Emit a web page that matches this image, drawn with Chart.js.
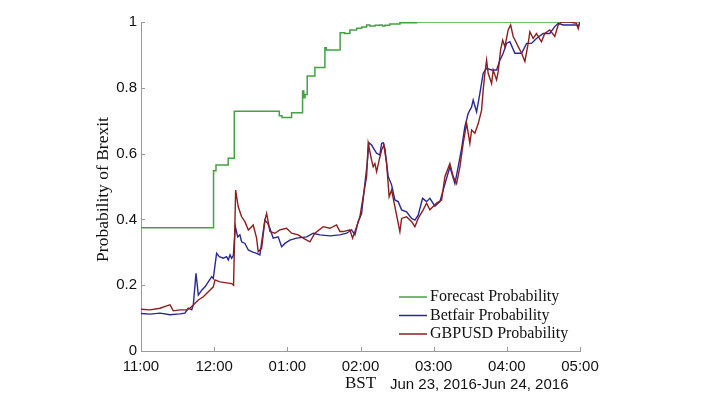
<!DOCTYPE html>
<html>
<head>
<meta charset="utf-8">
<script src="https://cdn.jsdelivr.net/npm/chart.js@4.4.1/dist/chart.umd.min.js"></script>
<style>
  html, body { margin: 0; padding: 0; background: #fff; }
  #wrap { width: 703px; height: 396px; }
</style>
</head>
<body>
<div id="wrap"><canvas id="grafico" width="703" height="396"></canvas></div>
<script>
// tick labels (x is minutes after 11:00 BST)
const xTickLabels = ['11:00', '12:00', '01:00', '02:00', '03:00', '04:00', '05:00'];
const yTickLabels = ['0', '0.2', '0.4', '0.6', '0.8', '1'];

// Forecast probability (step changes)
const forecastMin = [0, 59.5, 61.5, 71.5, 76.5, 113.4, 115.6, 123.5, 132.5, 133.5, 134.5, 136.3, 142.6, 150.8, 152,
    163.3, 167, 171.3, 176.8, 181, 185, 187.7, 192, 195.9, 198, 200, 204, 212.3, 226, 360];
const forecastProb = [0.375, 0.548, 0.565, 0.586, 0.729, 0.715, 0.71, 0.724, 0.79, 0.77, 0.78, 0.836, 0.862, 0.922, 0.915,
    0.967, 0.965, 0.976, 0.981, 0.985, 0.991, 0.988, 0.99, 0.991, 0.988, 0.99, 0.994, 0.998, 1.0, 1.0];

// Betfair probability
const betfairMin = [0, 7.4, 15.6, 23.8, 32, 36, 38.8, 41.6, 42.9, 45.1, 47, 49.8, 52.5, 55.2, 58, 59.3, 60.7, 62, 64.2,
    67.5, 70.2, 71.6, 73, 74.3, 75.7, 77.4, 79.3, 81.1, 82.5, 85.2, 88, 90.7, 94.8, 97.5, 100.2, 101.6, 103.9, 105.7,
    108.4, 112.5, 115.3, 118, 122.1, 127.6, 135.8, 141.2, 146.7, 154.9, 163.1, 168.6, 172.7, 175.4, 178.1, 180.9,
    183.6, 185.5, 186.9, 189.1, 193.2, 195.9, 197.3, 198.6, 200, 202.7, 205.5, 208.2, 210.9, 213.7, 217.8, 221.9,
    224.6, 227.3, 230.9, 234.2, 236.9, 241, 245.1, 247.8, 250.6, 253.3, 257.4, 260.1, 262.9, 265.6, 268.3, 271.1,
    272.4, 275.2, 277.9, 280.6, 283.4, 287.5, 291.6, 294.3, 297, 299.8, 302.5, 306.6, 312.1, 316.2, 320.2, 324.3,
    329.8, 335.2, 339.3, 342.1, 346.2, 351.7, 357.1, 358.5, 359.8];
const betfairProb = [0.114, 0.112, 0.115, 0.11, 0.113, 0.115, 0.13, 0.125, 0.14, 0.236, 0.17, 0.185, 0.195, 0.21, 0.226,
    0.22, 0.261, 0.297, 0.287, 0.282, 0.287, 0.277, 0.292, 0.282, 0.29, 0.378, 0.347, 0.353, 0.332, 0.327, 0.307,
    0.302, 0.297, 0.292, 0.363, 0.398, 0.388, 0.373, 0.343, 0.347, 0.317, 0.327, 0.337, 0.343, 0.347, 0.358, 0.353,
    0.35, 0.353, 0.358, 0.368, 0.353, 0.393, 0.418, 0.509, 0.57, 0.633, 0.626, 0.601, 0.596, 0.631, 0.633, 0.616,
    0.53, 0.505, 0.459, 0.454, 0.429, 0.423, 0.403, 0.398, 0.413, 0.464, 0.454, 0.464, 0.44, 0.454, 0.489, 0.525,
    0.56, 0.509, 0.56, 0.616, 0.682, 0.722, 0.742, 0.763, 0.727, 0.783, 0.844, 0.859, 0.854, 0.854, 0.884, 0.905,
    0.935, 0.94, 0.905, 0.905, 0.935, 0.935, 0.95, 0.965, 0.965, 0.986, 0.996, 0.991, 0.991, 0.991, 0.986, 0.996];

// GBPUSD implied probability
const gbpusdMin = [0, 7.4, 15.6, 21, 23.8, 26.5, 32, 37.5, 40.2, 44.3, 47, 51.1, 55.2, 59.3, 60.7, 64.8, 70.2, 74.3,
    75.9, 77.6, 79.7, 82.5, 85.2, 88, 90.7, 92, 94.8, 96.1, 98.9, 101.6, 103, 104.3, 105.7, 109.8, 113.9, 119.4,
    123.5, 128.9, 133, 138.5, 142.6, 149.4, 154.9, 160.4, 163.1, 165.8, 171.3, 173.5, 176.8, 179.5, 182.2, 185,
    186.3, 189.1, 190.4, 191.8, 193.2, 195.3, 197.3, 199.2, 201.4, 203.5, 205.5, 208.2, 212.3, 213.7, 217.8, 221.9,
    224.6, 227.3, 231.4, 234.2, 236.9, 242.4, 246.5, 249.2, 253.3, 256, 258.8, 261.5, 264.2, 267, 269.7, 271.1,
    273.8, 276.6, 279.3, 280.6, 282, 283.4, 284.7, 287.5, 288.8, 291.6, 292.9, 294.9, 296.6, 298.4, 301.1, 303.1,
    305.2, 307.4, 309.3, 312.1, 314.8, 317.5, 318.9, 321.6, 324.3, 328.4, 331.1, 335.2, 339.3, 342.1, 344.8, 351.7,
    357.1, 358.5, 359.8];
const gbpusdProb = [0.127, 0.125, 0.13, 0.137, 0.14, 0.122, 0.125, 0.125, 0.13, 0.145, 0.155, 0.165, 0.18, 0.195, 0.216,
    0.21, 0.207, 0.205, 0.2, 0.489, 0.439, 0.408, 0.393, 0.368, 0.378, 0.383, 0.343, 0.302, 0.312, 0.398, 0.418,
    0.393, 0.363, 0.358, 0.368, 0.373, 0.358, 0.353, 0.343, 0.332, 0.358, 0.378, 0.373, 0.383, 0.363, 0.363, 0.368,
    0.343, 0.378, 0.408, 0.469, 0.53, 0.631, 0.58, 0.56, 0.57, 0.545, 0.58, 0.611, 0.626, 0.57, 0.469, 0.489, 0.439,
    0.363, 0.403, 0.408, 0.393, 0.378, 0.403, 0.429, 0.449, 0.429, 0.45, 0.459, 0.53, 0.57, 0.53, 0.509, 0.56, 0.631,
    0.692, 0.631, 0.672, 0.662, 0.692, 0.732, 0.793, 0.844, 0.884, 0.844, 0.813, 0.854, 0.824, 0.849, 0.915, 0.945,
    0.925, 0.976, 0.991, 0.956, 0.94, 0.925, 0.905, 0.88, 0.935, 0.97, 0.95, 0.965, 0.94, 0.965, 0.976, 0.956, 0.991,
    1.0, 1.0, 0.996, 0.98, 1.0];

function pontos(xs, ys) {
    return xs.map((x, i) => ({ x: x, y: ys[i] }));
}

const serif = '"Liberation Serif", "DejaVu Serif", serif';
const sans = '"Liberation Sans", Arial, sans-serif';
const axisGray = '#9a9a9a';

// ticks para dentro, rótulos extras e legenda
const extras = {
    id: 'extras',
    afterDraw(chart) {
        const ctx = chart.ctx;
        const xs = chart.scales.x;
        const ys = chart.scales.y;
        const area = chart.chartArea;
        ctx.save();
        ctx.strokeStyle = axisGray;
        ctx.lineWidth = 1;
        xs.ticks.forEach(t => {
            const px = Math.round(xs.getPixelForValue(t.value)) + 0.5;
            ctx.beginPath();
            ctx.moveTo(px, area.bottom);
            ctx.lineTo(px, area.bottom - 4);
            ctx.stroke();
        });
        ys.ticks.forEach(t => {
            const py = Math.round(ys.getPixelForValue(t.value)) + 0.5;
            ctx.beginPath();
            ctx.moveTo(area.left, py);
            ctx.lineTo(area.left + 4, py);
            ctx.stroke();
        });

        // y title
        ctx.fillStyle = '#111';
        ctx.font = '17.5px ' + serif;
        ctx.textAlign = 'center';
        ctx.textBaseline = 'middle';
        ctx.save();
        ctx.translate(103, (area.top + area.bottom) / 2 + 3);
        ctx.rotate(-Math.PI / 2);
        ctx.fillText('Probability of Brexit', 0, 0);
        ctx.restore();

        // x title
        ctx.textAlign = 'left';
        ctx.font = '17px ' + serif;
        ctx.fillText('BST', 345, 384);
        ctx.font = '15px ' + sans;
        ctx.fillText('Jun 23, 2016-Jun 24, 2016', 390, 385);

        // legend
        ctx.font = '16px ' + serif;
        const ds = chart.data.datasets;
        [0, 1, 2].forEach(i => {
            const y = 297 + i * 18.5;
            ctx.strokeStyle = ds[i].borderColor;
            ctx.lineWidth = 1.5;
            ctx.beginPath();
            ctx.moveTo(399, y);
            ctx.lineTo(427, y);
            ctx.stroke();
            ctx.fillStyle = '#111';
            ctx.fillText(ds[i].label, 430, y);
        });
        ctx.restore();
    }
};

const ctx1 = document.getElementById('grafico').getContext('2d');
const grafico = new Chart(ctx1, {
    type: 'line',
    data: {
        datasets: [{
            label: 'Forecast Probability',
            data: pontos(forecastMin, forecastProb),
            borderColor: 'rgb(70, 160, 70)',
            borderWidth: 1.5,
            stepped: 'before',
            order: 2
        }, {
            label: 'Betfair Probability',
            data: pontos(betfairMin, betfairProb),
            borderColor: 'rgb(40, 40, 150)',
            borderWidth: 1.4,
            order: 1
        }, {
            label: 'GBPUSD Probability',
            data: pontos(gbpusdMin, gbpusdProb),
            borderColor: 'rgb(140, 30, 30)',
            borderWidth: 1.4,
            order: 0
        }]
    },
    options: {
        responsive: false,
        animation: false,
        events: [],
        elements: {
            point: { radius: 0 },
            line: { tension: 0, fill: false }
        },
        layout: {
            padding: { left: 0, right: 123, top: 22, bottom: 0 }
        },
        plugins: {
            legend: { display: false },
            tooltip: { enabled: false }
        },
        scales: {
            x: {
                type: 'linear',
                min: 0,
                max: 360,
                afterFit: s => { s.height = 45; },
                afterBuildTicks: s => { s.ticks = xTickLabels.map((l, i) => ({ value: i * 60 })); },
                ticks: {
                    padding: 7,
                    color: '#111',
                    font: { family: sans, size: 15 },
                    maxRotation: 0,
                    callback: (v, i) => xTickLabels[i]
                },
                grid: { drawOnChartArea: false, drawTicks: false },
                border: { color: axisGray, width: 1 }
            },
            y: {
                min: 0,
                max: 1,
                afterFit: s => { s.width = 141; },
                afterBuildTicks: s => { s.ticks = yTickLabels.map((l, i) => ({ value: i * 0.2 })); },
                ticks: {
                    padding: 4,
                    color: '#111',
                    font: { family: sans, size: 15 },
                    callback: (v, i) => yTickLabels[i]
                },
                grid: { drawOnChartArea: false, drawTicks: false },
                border: { color: axisGray, width: 1 }
            }
        }
    },
    plugins: [extras]
});
</script>
</body>
</html>
